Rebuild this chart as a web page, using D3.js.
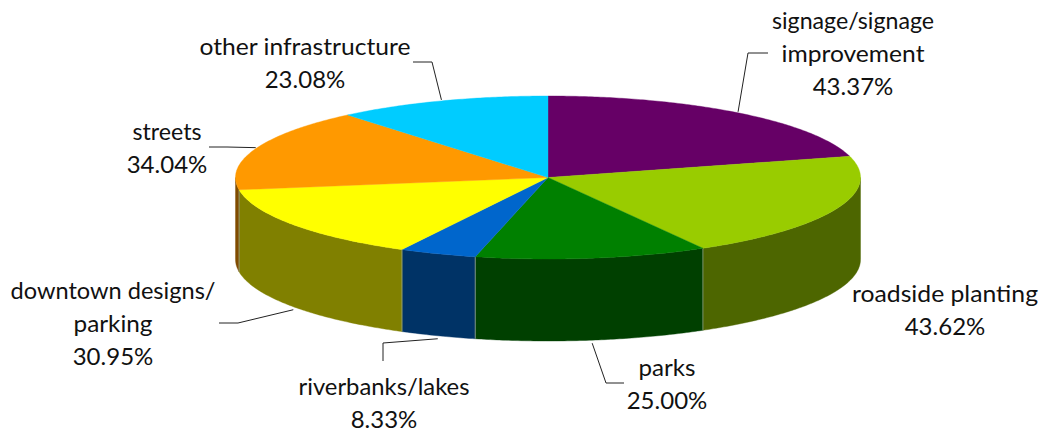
<!DOCTYPE html>
<html>
<head>
<meta charset="utf-8">
<script src="https://cdn.jsdelivr.net/npm/d3@7"></script>
<style>
  html, body { margin: 0; padding: 0; background: #fff; }
  svg { display: block; }
  text { font-family: Lato, "Open Sans", sans-serif; font-size: 24px; fill: #111; text-anchor: middle; }
</style>
</head>
<body>
<svg width="1041" height="432"></svg>
<script>
var categories = ["signage/signage improvement", "roadside planting", "parks", "riverbanks/lakes",
                  "downtown designs/ parking", "streets", "other infrastructure"];
var values = [43.37, 43.62, 25.00, 8.33, 30.95, 34.04, 23.08];
var labelLines = [["signage/signage", "improvement"], ["roadside planting"], ["parks"], ["riverbanks/lakes"],
                  ["downtown designs/", "parking"], ["streets"], ["other infrastructure"]];
var topColors = ["#660066", "#99cc00", "#008000", "#0066cc", "#ffff00", "#ff9900", "#00ccff"];
var sideColors = ["#330033", "#4d6600", "#004000", "#003366", "#808000", "#804c00", "#006680"];

// label placement, last line is the percentage. widths keep the name lines to the original's run
var labelPos = [
  {x: 853, y: 29, widths: [162, 143], elbow: [[748, 53], [768, 53]]},
  {x: 945, y: 302, widths: [186], elbow: null},
  {x: 667, y: 376, widths: [57], elbow: [[606, 383], [624, 383]]},
  {x: 384, y: 395, widths: [171], elbow: [[383, 343], [383, 361]]},
  {x: 113, y: 299, widths: [205, 79], elbow: [[238, 323], [219, 323]]},
  {x: 167, y: 140, widths: [69], elbow: [[227, 147], [209, 147]]},
  {x: 305, y: 55, widths: [211], elbow: [[432, 62], [413, 62]]}
];
var lineHeight = 33;

var svg = d3.select("svg");
var cx = 548, cy = 177.5, rx = 312.5, ry = 81.5, depth = 82;

var x = d3.scaleLinear().domain([-1, 1]).range([cx - rx, cx + rx]);
var y = d3.scaleLinear().domain([-1, 1]).range([cy - ry, cy + ry]);

var pie = d3.pie().sort(null).startAngle(0).endAngle(2 * Math.PI);
var slices = pie(values);

// clockwise from 12 o'clock, flattened to the ellipse
function px(t) { return x(Math.sin(t)); }
function py(t) { return y(-Math.cos(t)); }

function rim(a, b, dy) {
  var n = Math.max(2, Math.ceil((b - a) / 0.01)), pts = [];
  for (var i = 0; i <= n; i++) {
    var t = a + (b - a) * i / n;
    pts.push([px(t), py(t) + dy]);
  }
  return pts;
}

var line = d3.line();

// walls, only the front half shows
var walls = svg.append("g");
slices.forEach(function(d, i) {
  var a = Math.max(d.startAngle, Math.PI / 2), b = Math.min(d.endAngle, 3 * Math.PI / 2);
  if (a >= b) return;
  var pts = rim(a, b, 0).concat(rim(a, b, depth).reverse());
  walls.append("path")
    .attr("d", line(pts) + "Z")
    .attr("fill", sideColors[i])
    .attr("stroke", sideColors[i])
    .attr("stroke-width", 0.4);
});

// seams between the walls
slices.forEach(function(d) {
  var t = d.startAngle;
  if (t <= Math.PI / 2 || t >= 3 * Math.PI / 2) return;
  walls.append("line")
    .attr("x1", px(t)).attr("x2", px(t))
    .attr("y1", py(t)).attr("y2", py(t) + depth)
    .attr("stroke", "#9aa88a")
    .attr("stroke-width", 0.8);
});

// top face
svg.append("g").selectAll("path")
  .data(slices)
  .enter().append("path")
  .attr("d", function(d) {
    return line([[cx, cy]].concat(rim(d.startAngle, d.endAngle, 0))) + "Z";
  })
  .attr("fill", function(d, i) { return topColors[i]; })
  .attr("stroke", function(d, i) { return topColors[i]; })
  .attr("stroke-width", 0.4);

// leader lines, starting at the middle of each slice's outer edge
var leaders = svg.append("g");
slices.forEach(function(d, i) {
  var pos = labelPos[i];
  if (!pos.elbow) return;
  var t = (d.startAngle + d.endAngle) / 2;
  var front = Math.cos(t) < 0;
  var start = [px(t), py(t) + (front ? depth + 3 : -1)];
  leaders.append("path")
    .attr("d", line([start].concat(pos.elbow)))
    .attr("fill", "none")
    .attr("stroke", "#222")
    .attr("stroke-width", 1);
});

// labels
var labels = svg.append("g");
categories.forEach(function(c, i) {
  var pos = labelPos[i];
  var rows = labelLines[i].concat(d3.format(".2f")(values[i]) + "%");
  rows.forEach(function(r, j) {
    var t = labels.append("text")
      .attr("x", pos.x)
      .attr("y", pos.y + j * lineHeight)
      .text(r);
    if (pos.widths[j]) {
      t.attr("textLength", pos.widths[j]).attr("lengthAdjust", "spacingAndGlyphs");
    }
  });
});
</script>
</body>
</html>
